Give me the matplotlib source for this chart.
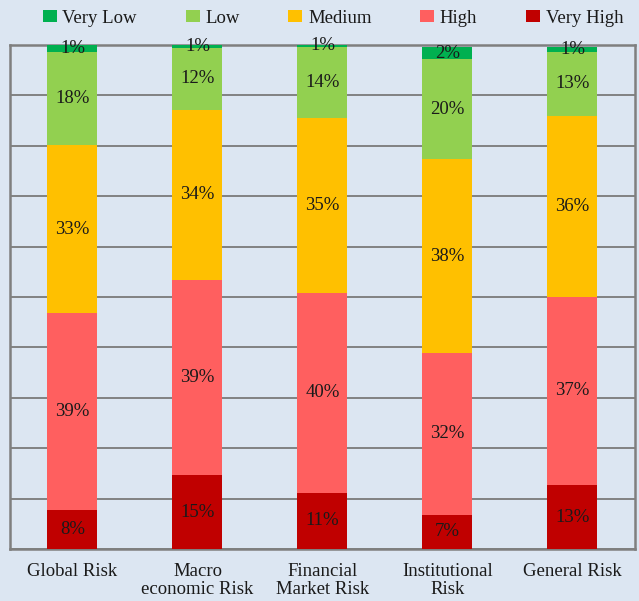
import matplotlib.pyplot as plt
import numpy as np

plt.rcParams['font.family'] = ['Liberation Serif', 'DejaVu Serif']

# categories and shares (percent of respondents)
categorias = ['Global Risk', 'Macro\neconomic Risk', 'Financial\nMarket Risk',
              'Institutional\nRisk', 'General Risk']
niveles = ['Very Low', 'Low', 'Medium', 'High', 'Very High']
muy_alto = [7.8, 14.6, 11.2, 6.8, 12.7]
alto = [39.0, 38.8, 39.6, 32.1, 37.4]
medio = [33.3, 33.7, 34.7, 38.4, 35.9]
bajo = [18.5, 12.4, 14.1, 19.9, 12.7]
muy_bajo = [1.4, 0.6, 0.8, 2.4, 1.0]

colores = {'Very Low': '#00b050', 'Low': '#92d050', 'Medium': '#ffc000',
           'High': '#ff5f5f', 'Very High': '#c00000'}

fondo = '#dce6f2'
fig, ax = plt.subplots(figsize=(6.39, 6.01), dpi=100)
fig.patch.set_facecolor(fondo)
ax.set_facecolor(fondo)
fig.subplots_adjust(left=0.0156, right=0.9937, top=0.925, bottom=0.0865)

x = np.arange(len(categorias))
series = [('Very High', muy_alto), ('High', alto), ('Medium', medio),
          ('Low', bajo), ('Very Low', muy_bajo)]
base = np.zeros(len(categorias))
handles = {}
for nombre, valores in series:
    v = np.array(valores)
    barras = ax.bar(x, v, 0.4, bottom=base, color=colores[nombre], zorder=3)
    handles[nombre] = barras
    for xi, b, val in zip(x, base, v):
        ax.text(xi, b + val / 2, f'{val:.0f}%', ha='center', va='center',
                fontsize=13.5, color='#1a1a1a', zorder=4)
    base += v

ax.set_xlim(-0.5, len(categorias) - 0.5)
ax.set_ylim(0, 100)
ax.set_yticks(np.arange(0, 101, 10))
ax.set_yticklabels([])
ax.tick_params(axis='y', length=0)
ax.tick_params(axis='x', length=0, pad=10, labelsize=13.5, labelcolor='#1a1a1a')
ax.set_xticks(x)
ax.set_xticklabels(categorias, linespacing=1.12)
ax.grid(axis='y', color='#7a7a7a', linewidth=1.3, zorder=0)
for lado in ax.spines.values():
    lado.set_color('#7f7f7f')
    lado.set_linewidth(1.8)

fig.legend([handles[n] for n in niveles], niveles, loc='upper center',
           bbox_to_anchor=(0.521, 1.012), ncol=5, frameon=False, fontsize=13.5,
           handlelength=0.75, handleheight=0.6, handletextpad=0.3,
           columnspacing=2.6, labelcolor='#1a1a1a')

plt.savefig('out.png', dpi=100, facecolor=fondo)
